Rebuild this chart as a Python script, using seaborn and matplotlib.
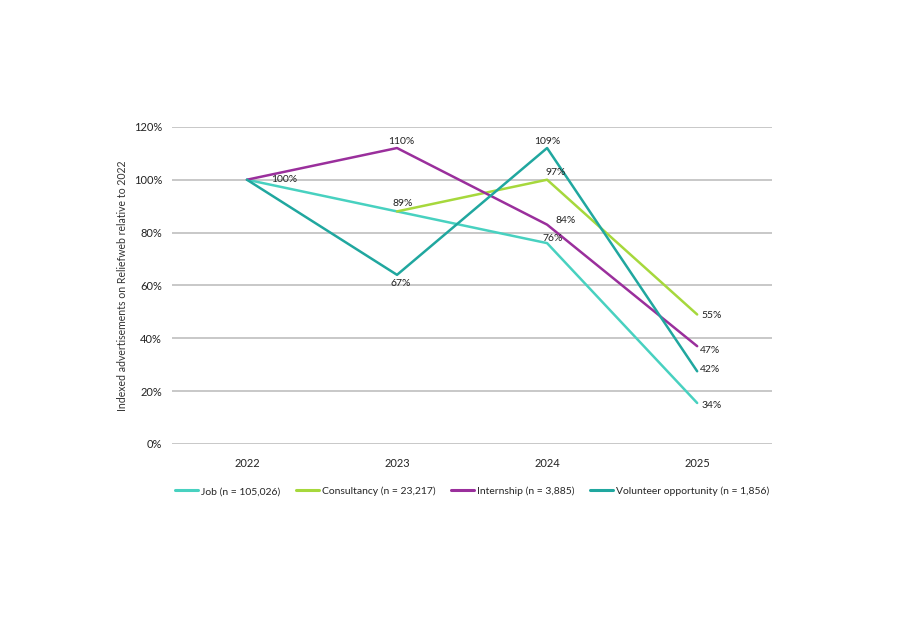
import pandas as pd
import numpy as np
import matplotlib.pyplot as plt
import seaborn as sns

sns.set_theme(style="white")
plt.rcParams['font.family'] = ['Lato', 'DejaVu Sans']

# Data
years = ['2022', '2023', '2024', '2025']
series_names = ['Job (n = 105,026)', 'Consultancy (n = 23,217)',
                'Internship (n = 3,885)', 'Volunteer opportunity (n = 1,856)']
job = [100, 88, 76, 15.5]
consultancy = [np.nan, 88, 100, 49]
internship = [100, 112, 83, 37]
volunteer = [100, 64, 112, 27.5]

# Printed labels (as shown on the chart)
job_labels = ['100%', '89%', '76%', '34%']
consultancy_labels = ['', '', '97%', '55%']
internship_labels = ['', '110%', '84%', '47%']
volunteer_labels = ['', '67%', '109%', '42%']

colors = ['#48d1c0', '#a6d83c', '#9a2f9c', '#20a79f']

df = pd.DataFrame({
    'year': years * 4,
    'value': job + consultancy + internship + volunteer,
    'series': np.repeat(series_names, len(years)),
})

fig = plt.figure(figsize=(9, 6.36), dpi=100)
ax = fig.add_axes([0.191, 0.302, 0.667, 0.4985])

sns.lineplot(data=df, x='year', y='value', hue='series', palette=colors,
             linewidth=1.8, ax=ax, sort=False)

ax.set_xlim(-0.5, 3.5)
ax.set_ylim(0, 120)
ax.set_yticks(range(0, 121, 20))
ax.set_yticklabels([f'{v}%' for v in range(0, 121, 20)])
ax.yaxis.grid(True, color='#c8c8c8', linewidth=1.4)
ax.xaxis.grid(False)
for s in ax.spines.values():
    s.set_visible(False)
ax.tick_params(axis='both', labelsize=8, colors='#222222', length=0)
ax.tick_params(axis='x', pad=10)
ax.tick_params(axis='y', pad=7)
ax.set_xlabel('')
ax.set_ylabel('Indexed advertisements on Reliefweb relative to 2022',
              fontsize=7.6, color='#333333', labelpad=4)

# Value labels: (series values, labels, offsets per point, alignment)
label_specs = [
    (job, job_labels, [(27, 0, 'center'), (4, 6, 'center'), (4, 3, 'center'), (3, -2, 'left')]),
    (consultancy, consultancy_labels, [None, None, (6, 5, 'center'), (3, -1, 'left')]),
    (internship, internship_labels, [None, (3, 5, 'center'), (13, 3, 'center'), (2, -3, 'left')]),
    (volunteer, volunteer_labels, [None, (3, -6, 'center'), (0, 5, 'center'), (2, 1, 'left')]),
]
for vals, labs, offs in label_specs:
    for i, (v, lab, off) in enumerate(zip(vals, labs, offs)):
        if not lab or off is None:
            continue
        dx, dy, ha = off
        ax.annotate(lab, (i, v), xytext=(dx, dy), textcoords='offset points',
                    ha=ha, va='center', fontsize=7.5, color='#222222')

leg = ax.legend(loc='upper center', bbox_to_anchor=(0.5, -0.105), ncol=4,
                frameon=False, fontsize=7.5, handlelength=2.2,
                columnspacing=1.5, handletextpad=0.3)
for line in leg.get_lines():
    line.set_linewidth(2.2)

plt.savefig('out.png', dpi=100)
